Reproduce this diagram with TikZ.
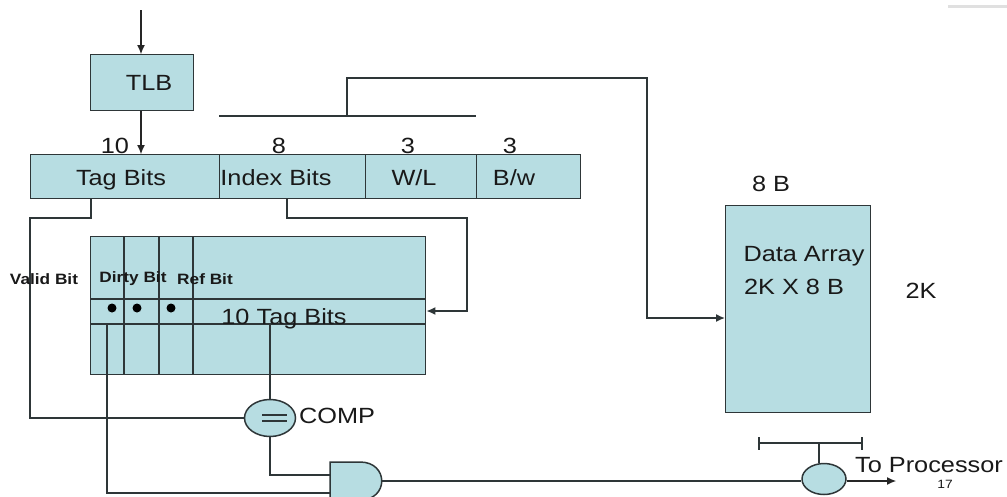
\documentclass[tikz,border=0pt]{standalone}
\usepackage{fontspec}
\setmainfont[FakeStretch=1.15]{Liberation Sans}
\usetikzlibrary{shapes.geometric,arrows.meta}
\definecolor{boxfill}{HTML}{B7DDE2}
\definecolor{ink}{HTML}{2E3638}
\tikzset{
  boxnode/.style={draw=ink,fill=boxfill,line width=1.4pt,rectangle,inner sep=0pt,anchor=north west},
  wire/.style={draw=ink,line width=1.5pt},
  thin wire/.style={draw=black!85,line width=1.1pt},
  arrowed/.style={-{Latex[length=9pt,width=8pt]}},
  lab/.style={font=\fontsize{22}{24}\selectfont,text=black!90,inner sep=0pt,text height=15pt,text depth=4pt,yshift=-2.5pt},
  smalllab/.style={font=\fontsize{15}{17}\selectfont\bfseries,text=black!90,inner sep=0pt},
  dotmark/.style={circle,fill=black,inner sep=0pt,minimum size=9pt},
  gate/.style={ellipse,draw=ink,fill=boxfill,line width=1.5pt,inner sep=0pt}
}
\begin{document}
\begin{tikzpicture}[x=1pt,y=-1pt]
\useasboundingbox (0,0) rectangle (1007,496);
\fill[white] (0,0) rectangle (1007,496);
\clip (0,0) rectangle (1007,496);
\fill[black!12] (948,5) rectangle (1007,8);

% top address fields
\coordinate (in) at (141,10);
\node[boxnode,minimum width=103pt,minimum height=56pt] (tlb) at (90,54) {};
\node[boxnode,minimum width=189pt,minimum height=44pt] (tag) at (30,154) {};
\node[boxnode,minimum width=146pt,minimum height=44pt] (index) at (219,154) {};
\node[boxnode,minimum width=111pt,minimum height=44pt] (wl) at (365,154) {};
\node[boxnode,minimum width=104pt,minimum height=44pt] (bw) at (476,154) {};

% cache array
\node[boxnode,minimum width=335pt,minimum height=138pt] (cache) at (90,236) {};
\coordinate (c1) at (124,236); \coordinate (c2) at (159,236); \coordinate (c3) at (193,236);
\coordinate (r1) at (90,299); \coordinate (r2) at (90,324);
\draw[wire,line width=1.2pt] (r1) -- (r1 -| cache.east);
\draw[wire] (r2) -- (r2 -| cache.east);
\foreach \n in {c1,c2,c3} \draw[wire] (\n) -- (\n |- cache.south);
\node[dotmark] (d1) at (112,308) {};
\node[dotmark] (d2) at (137,308) {};
\node[dotmark] (d3) at (171,308) {};

% data array
\node[boxnode,minimum width=145pt,minimum height=207pt] (data) at (725,205) {};

% gates
\node[gate,minimum width=51pt,minimum height=37pt] (comp) at (270,418) {};
\node[gate,minimum width=44pt,minimum height=31pt] (mux) at (824,479) {};
\coordinate (andA) at (330,475); \coordinate (andB) at (330,493); \coordinate (andOut) at (382,481);
\draw[wire,line width=1.8pt] (262,415) -- (287,415) (262,421) -- (287,421);

% connectors
\draw[thin wire,arrowed] (in) -- (in |- tlb.north);
\draw[thin wire,arrowed] (tlb.south -| in) -- (tag.north -| in);
\coordinate (busL) at (219,116); \coordinate (busR) at (476,116);
\draw[wire] (busL) -- (busR);
\coordinate (busUp) at (347,116); \coordinate (busTop) at (647,78);
\draw[wire,arrowed] (busUp) -- (busUp |- busTop) -- (busTop) -- (647,318) -- (647,318 -| data.west);
\coordinate (tagOut) at (91,198);
\draw[wire] (tagOut) -- (91,218) -- (30,218) -- (30,418) -- (comp.west);
\coordinate (idxOut) at (287,198);
\draw[wire,arrowed] (idxOut) -- (287,218) -- (467,218) -- (467,311) -- (467,311 -| cache.east);
\coordinate (tagRead) at (270,324);
\draw[wire] (tagRead) -- (comp.north);
\draw[wire] (comp.south) -- (comp.south |- andA) -- (andA);
\coordinate (valid) at (107,324);
\draw[wire] (valid) -- (valid |- andB) -- (andB);
\draw[wire] (andOut) -- (andOut -| mux.west);
\draw[thin wire,arrowed] (mux.east |- andOut) -- (896,481);
\coordinate (capL) at (759,443); \coordinate (capR) at (862,443); \coordinate (capM) at (819,443);
\draw[wire] (capL) -- (capR);
\draw[wire] (759,437) -- (759,450) (862,437) -- (862,450);
\draw[wire] (capM) -- (capM |- mux.north);
\draw[wire,fill=boxfill] (330,500) -- (330,462) -- (360,462) .. controls (389,462) and (389,500) .. (360,500) -- cycle;

% labels
\node[lab] (tTLB) at (149,82) {TLB};
\node[lab] (t10) at (115,145) {10};
\node[lab] (t8) at (279,145) {8};
\node[lab] (t3a) at (408,145) {3};
\node[lab] (t3b) at (510,145) {3};
\node[lab] (tTag) at (121,177) {Tag Bits};
\node[lab] (tIdx) at (276,177) {Index Bits};
\node[lab] (tWL) at (414,177) {W/L};
\node[lab] (tBw) at (514,177) {B/w};
\node[lab] (t8B) at (771,183) {8 B};
\node[lab] (tDA) at (804,253) {Data Array};
\node[lab] (t2K8) at (794,286) {2K X 8 B};
\node[lab] (t2K) at (921,290) {2K};
\node[smalllab] (tV) at (44,279) {Valid Bit};
\node[smalllab] (tD) at (133,279) {Dirty Bit};
\node[smalllab] (tR) at (205,279) {Ref Bit};
\node[lab] (t10T) at (284,316) {10 Tag Bits};
\node[lab] (tC) at (337,415) {COMP};
\node[lab] (tP) at (929,464) {To Processor};
\node[font=\fontsize{12}{14}\selectfont,inner sep=0pt,text=black!90] (t17) at (945,484) {17};
\end{tikzpicture}
\end{document}
